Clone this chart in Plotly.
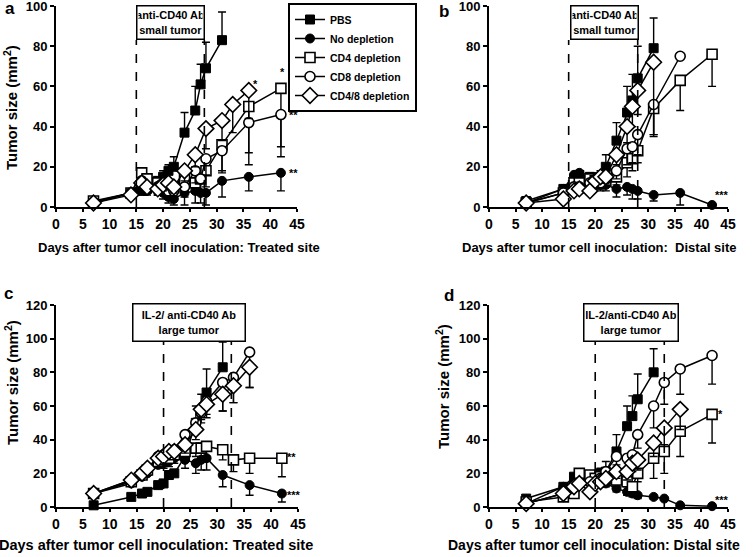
import plotly.graph_objects as go

W, H = 755, 557
FONT = "Arial, Liberation Sans, sans-serif"

SERIES = ["PBS", "No depletion", "CD4 depletion", "CD8 depletion", "CD4/8 depletion"]
X_TICKS = [0, 5, 10, 15, 20, 25, 30, 35, 40, 45]

# ---------------- Panel a : treated site, small tumor ----------------
A_PBS_DAYS = [7, 14, 16, 17, 19, 20, 21, 22, 24, 26, 27, 28, 31]
A_PBS = [2.5, 7, 8, 9, 13, 15, 18, 20, 37, 48, 61, 69, 83]
A_PBS_UP = [0, 0, 1, 1, 2, 3, 3, 5, 10, 12, 10, 13, 14]

A_NOD_DAYS = [7, 14, 16, 17, 19, 20, 21, 22, 24, 26, 27, 28, 31, 36, 42]
A_NOD = [2, 7, 9, 8, 10, 7, 5, 4, 7, 8, 7, 7, 13, 15, 17]
A_NOD_DN = [0, 0, 2, 2, 3, 3, 3, 3, 6, 6, 5, 6, 8, 7, 9]

A_CD4_DAYS = [7, 14, 16, 17, 19, 20, 21, 22, 24, 26, 27, 28, 31, 36, 42]
A_CD4 = [3, 7, 17, 14, 12, 10, 8, 10, 14, 12, 14, 18, 31, 50, 59]
A_CD4_DN = [0, 0, 5, 5, 4, 4, 4, 4, 6, 5, 6, 8, 13, 23, 29]

A_CD8_DAYS = [7, 14, 16, 17, 19, 20, 21, 22, 24, 26, 27, 28, 31, 36, 42]
A_CD8 = [2, 7, 13, 10, 10, 12, 8, 8, 10, 18, 14, 24, 28, 42, 46]
A_CD8_DN = [0, 0, 4, 3, 4, 4, 4, 4, 5, 6, 6, 8, 11, 21, 21]

A_CD48_DAYS = [7, 14, 16, 17, 19, 20, 21, 22, 24, 26, 28, 31, 33, 36]
A_CD48 = [2, 6, 12, 10, 9, 11, 12, 10, 18, 26, 39, 43, 51, 58]
A_CD48_DN = [0, 0, 3, 3, 3, 3, 3, 3, 5, 6, 10, 10, 14, 14]

# ---------------- Panel b : distal site, small tumor ----------------
B_PBS_DAYS = [7, 14, 16, 17, 19, 20, 21, 22, 24, 26, 27, 28, 31]
B_PBS = [3, 9, 14, 16, 15, 14, 15, 20, 33, 47, 53, 64, 79]
B_PBS_UP = [0, 1, 2, 2, 2, 3, 3, 6, 9, 13, 13, 16, 15]

B_NOD_DAYS = [7, 14, 16, 17, 19, 20, 21, 22, 24, 26, 27, 28, 31, 36, 42]
B_NOD = [2, 9, 16, 17, 14, 12, 11, 11, 9, 10, 9, 8, 6, 7, 1]
B_NOD_DN = [0, 0, 3, 3, 3, 3, 3, 3, 4, 4, 5, 4, 3, 6, 0]

B_CD4_DAYS = [7, 14, 16, 17, 19, 20, 21, 22, 24, 26, 27, 28, 31, 36, 42]
B_CD4 = [2, 7, 12, 12, 14, 13, 12, 13, 15, 22, 24, 28, 49, 63, 76]
B_CD4_DN = [0, 0, 3, 3, 3, 3, 3, 3, 4, 7, 6, 6, 14, 15, 16]

B_CD8_DAYS = [7, 14, 16, 17, 19, 20, 21, 22, 24, 26, 27, 28, 31, 36]
B_CD8 = [2, 7, 10, 10, 12, 13, 12, 14, 18, 29, 30, 36, 51, 75]
B_CD8_DN = [0, 0, 3, 3, 3, 3, 3, 3, 4, 8, 8, 10, 15, 0]

B_CD48_DAYS = [7, 14, 16, 17, 19, 20, 21, 22, 24, 26, 27, 28, 31]
B_CD48 = [2, 4, 8, 9, 8, 13, 15, 15, 26, 40, 50, 58, 72]
B_CD48_DN = [0, 0, 2, 2, 2, 3, 3, 3, 5, 8, 10, 12, 36]

# ---------------- Panel c : treated site, large tumor ----------------
C_PBS_DAYS = [7, 14, 16, 17, 19, 20, 21, 22, 24, 26, 27, 28, 31]
C_PBS = [1, 6, 8, 9, 13, 14, 19, 20, 30, 50, 57, 68, 83]
C_PBS_UP = [0, 0, 0, 0, 0, 0, 0, 0, 5, 10, 10, 14, 15]

C_NOD_DAYS = [7, 14, 16, 17, 19, 20, 21, 22, 24, 26, 27, 28, 31, 36, 42]
C_NOD = [8, 14, 18, 20, 25, 26, 27, 29, 28, 26, 28, 29, 19, 13, 8]
C_NOD_DN = [0, 0, 0, 0, 2, 3, 3, 3, 5, 6, 6, 7, 7, 6, 5]

C_CD4_DAYS = [7, 14, 16, 17, 19, 20, 21, 22, 24, 26, 27, 28, 31, 33, 36, 42]
C_CD4 = [8, 15, 19, 22, 27, 28, 29, 31, 33, 35, 35, 36, 34, 28, 29, 29]
C_CD4_DN = [0, 0, 0, 0, 2, 2, 3, 3, 4, 5, 5, 6, 6, 7, 9, 11]

C_CD8_DAYS = [7, 14, 16, 17, 19, 20, 21, 22, 24, 26, 27, 28, 31, 33, 36]
C_CD8 = [8, 16, 20, 23, 30, 31, 33, 34, 43, 50, 56, 63, 74, 77, 92]
C_CD8_DN = [0, 0, 0, 0, 2, 2, 3, 3, 5, 6, 6, 8, 17, 15, 21]

C_CD48_DAYS = [7, 14, 16, 17, 19, 20, 21, 22, 24, 26, 27, 28, 31, 33, 36]
C_CD48 = [8, 16, 20, 23, 29, 30, 33, 33, 37, 46, 58, 61, 67, 72, 83]
C_CD48_DN = [0, 0, 0, 0, 2, 2, 3, 3, 5, 6, 6, 8, 10, 10, 12]

# ---------------- Panel d : distal site, large tumor ----------------
D_PBS_DAYS = [7, 14, 16, 17, 19, 20, 21, 22, 24, 26, 27, 28, 31]
D_PBS = [5, 12, 18, 19, 19, 18, 20, 21, 33, 48, 54, 64, 80]
D_PBS_UP = [0, 0, 1, 1, 2, 2, 3, 6, 10, 12, 12, 15, 14]

D_NOD_DAYS = [7, 14, 16, 17, 19, 20, 21, 22, 24, 26, 27, 28, 31, 33, 36, 42]
D_NOD = [2, 12, 15, 18, 17, 15, 15, 14, 11, 9, 8, 7, 6, 5, 1, 0.5]
D_NOD_DN = [0, 0, 2, 2, 2, 2, 2, 2, 2, 2, 2, 2, 1, 1, 0, 0]

D_CD4_DAYS = [7, 14, 16, 17, 19, 20, 21, 22, 24, 26, 27, 28, 31, 33, 36, 42]
D_CD4 = [3, 6, 8, 20, 19, 17, 18, 17, 16, 15, 12, 20, 29, 33, 45, 55]
D_CD4_DN = [0, 0, 1, 2, 2, 2, 3, 3, 3, 3, 3, 5, 12, 13, 15, 17]

D_CD8_DAYS = [7, 14, 16, 17, 19, 20, 21, 22, 24, 26, 27, 28, 31, 33, 36, 42]
D_CD8 = [2, 8, 12, 14, 15, 14, 17, 21, 30, 29, 31, 43, 60, 74, 82, 90]
D_CD8_DN = [0, 0, 2, 2, 2, 2, 3, 3, 5, 6, 6, 8, 13, 13, 15, 17]

D_CD48_DAYS = [7, 14, 16, 17, 19, 20, 21, 22, 24, 26, 27, 28, 31, 33, 36]
D_CD48 = [2, 8, 12, 14, 9, 14, 15, 17, 21, 21, 26, 28, 38, 47, 58]
D_CD48_DN = [0, 0, 2, 2, 2, 2, 3, 3, 4, 5, 5, 6, 8, 10, 12]

# ---------------- styles ----------------
MARKERS = {
    "PBS": dict(symbol="square", size=9, color="black", line=dict(color="black", width=1)),
    "No depletion": dict(symbol="circle", size=9, color="black", line=dict(color="black", width=1)),
    "CD4 depletion": dict(symbol="square", size=10, color="white", line=dict(color="black", width=1.6)),
    "CD8 depletion": dict(symbol="circle", size=10, color="white", line=dict(color="black", width=1.6)),
    "CD4/8 depletion": dict(symbol="diamond", size=12, color="white", line=dict(color="black", width=1.6)),
}

PANELS = [
    dict(ax="", ymax=100, dtick=20, dom_x=(56, 297), dom_y=(6, 207),
         series=[("PBS", A_PBS_DAYS, A_PBS, A_PBS_UP, None),
                 ("No depletion", A_NOD_DAYS, A_NOD, None, A_NOD_DN),
                 ("CD4 depletion", A_CD4_DAYS, A_CD4, None, A_CD4_DN),
                 ("CD8 depletion", A_CD8_DAYS, A_CD8, None, A_CD8_DN),
                 ("CD4/8 depletion", A_CD48_DAYS, A_CD48, None, A_CD48_DN)]),
    dict(ax="2", ymax=100, dtick=20, dom_x=(489, 728), dom_y=(6, 207),
         series=[("PBS", B_PBS_DAYS, B_PBS, B_PBS_UP, None),
                 ("No depletion", B_NOD_DAYS, B_NOD, None, B_NOD_DN),
                 ("CD4 depletion", B_CD4_DAYS, B_CD4, None, B_CD4_DN),
                 ("CD8 depletion", B_CD8_DAYS, B_CD8, None, B_CD8_DN),
                 ("CD4/8 depletion", B_CD48_DAYS, B_CD48, None, B_CD48_DN)]),
    dict(ax="3", ymax=120, dtick=20, dom_x=(56, 298), dom_y=(305, 507),
         series=[("PBS", C_PBS_DAYS, C_PBS, C_PBS_UP, None),
                 ("No depletion", C_NOD_DAYS, C_NOD, None, C_NOD_DN),
                 ("CD4 depletion", C_CD4_DAYS, C_CD4, None, C_CD4_DN),
                 ("CD8 depletion", C_CD8_DAYS, C_CD8, None, C_CD8_DN),
                 ("CD4/8 depletion", C_CD48_DAYS, C_CD48, None, C_CD48_DN)]),
    dict(ax="4", ymax=120, dtick=20, dom_x=(489, 728), dom_y=(305, 507),
         series=[("PBS", D_PBS_DAYS, D_PBS, D_PBS_UP, None),
                 ("No depletion", D_NOD_DAYS, D_NOD, None, D_NOD_DN),
                 ("CD4 depletion", D_CD4_DAYS, D_CD4, None, D_CD4_DN),
                 ("CD8 depletion", D_CD8_DAYS, D_CD8, None, D_CD8_DN),
                 ("CD4/8 depletion", D_CD48_DAYS, D_CD48, None, D_CD48_DN)]),
]

def px(x):
    return x / W

def py(y):
    return 1 - y / H

fig = go.Figure()
layout = {}
for i, p in enumerate(PANELS):
    ax = p["ax"]
    for name, days, vals, up, dn in p["series"]:
        n = len(vals)
        fig.add_trace(go.Scatter(
            x=days, y=vals, name=name, mode="lines+markers",
            xaxis="x" + ax, yaxis="y" + ax,
            line=dict(color="black", width=1.5),
            marker=MARKERS[name],
            error_y=dict(type="data", symmetric=False,
                         array=up if up is not None else [0] * n,
                         arrayminus=dn if dn is not None else [0] * n,
                         color="black", thickness=1.4, width=4),
            cliponaxis=False,
            showlegend=(i == 0),
        ))
    layout["xaxis" + ax] = dict(
        domain=[px(p["dom_x"][0]), px(p["dom_x"][1])], range=[0, 45],
        tickvals=X_TICKS, anchor="y" + ax,
        showline=True, linewidth=2, linecolor="black", mirror=False,
        ticks="outside", ticklen=3, tickwidth=1.5, tickcolor="black",
        showgrid=False, zeroline=False, ticklabeloverflow="allow",
        tickfont=dict(family=FONT, size=14, color="black", weight="bold"),
    )
    layout["yaxis" + ax] = dict(
        domain=[py(p["dom_y"][1]), py(p["dom_y"][0])], range=[0, p["ymax"]],
        dtick=p["dtick"], anchor="x" + ax,
        showline=True, linewidth=2, linecolor="black",
        ticks="outside", ticklen=4, tickwidth=1.5, tickcolor="black",
        showgrid=False, zeroline=False, ticklabeloverflow="allow",
        tickfont=dict(family=FONT, size=13, color="black", weight="bold"),
    )

# dashed treatment windows + boxes
WINDOWS = [("", 15, 27.7, 40), ("2", 15, 28, 40), ("3", 20, 32.6, 341), ("4", 20, 33, 341)]
shapes = []
for ax, d0, d1, top in WINDOWS:
    dom = layout["yaxis" + ax]["domain"]
    for d in (d0, d1):
        shapes.append(dict(type="line", xref="x" + ax, yref="paper", x0=d, x1=d,
                           y0=dom[0], y1=py(top),
                           line=dict(color="black", width=1.6, dash="dash")))

annotations = []
BOXES = [
    ("anti-CD40 Ab<br>small tumor", 170.5, 23, 64, 30),
    ("anti-CD40 Ab<br>small tumor", 604, 23, 64, 30),
    ("IL-2/ anti-CD40 Ab<br>large tumor", 188.5, 322, 109, 34),
    ("IL-2/anti-CD40 Ab<br>large tumor", 630.5, 322, 91, 34),
]
for txt, cx, cy, w, h in BOXES:
    annotations.append(dict(text=txt, xref="paper", yref="paper", x=px(cx), y=py(cy),
                            xanchor="center", yanchor="middle", showarrow=False,
                            width=w, height=h, bgcolor="white", bordercolor="black",
                            borderwidth=1.5, borderpad=1,
                            font=dict(family=FONT, size=11, color="black", weight="bold")))

def label(txt, x, y, size, angle=0):
    annotations.append(dict(text=txt, xref="paper", yref="paper", x=px(x), y=py(y),
                            xanchor="center", yanchor="middle", showarrow=False,
                            textangle=angle,
                            font=dict(family=FONT, size=size, color="black", weight="bold")))

# panel letters
label("a", 10, 9, 17)
label("b", 444, 11, 17)
label("c", 8, 293, 17)
label("d", 449, 295, 17)
# axis titles
label("Tumor size (mm<sup>2</sup>)", 11, 108, 15, -90)
label("Tumor size (mm<sup>2</sup>)", 11, 383, 15, -90)
label("Tumor size (mm<sup>2</sup>)", 442, 387, 15, -90)
label("Days after tumor cell inoculation: Treated site", 179, 248, 13)
label("Days after tumor cell inoculation:  Distal site", 599, 248, 13)
label("Days after tumor cell inoculation: Treated site", 156, 545, 14.5)
label("Days after tumor cell inoculation: Distal site", 594, 545, 14)

# significance marks (data coordinates)
STARS = [
    ("", "*", 37.3, 61), ("", "*", 42.2, 67), ("", "**", 44.3, 46), ("", "**", 44.3, 17),
    ("2", "***", 43.8, 6),
    ("3", "**", 43.8, 30), ("3", "***", 44.3, 7),
    ("4", "*", 43.6, 55), ("4", "***", 43.8, 4),
]
for ax, s, x, y in STARS:
    annotations.append(dict(text=s, xref="x" + ax, yref="y" + ax, x=x, y=y,
                            showarrow=False, xanchor="center", yanchor="middle",
                            font=dict(family=FONT, size=11, color="black", weight="bold")))

fig.update_layout(
    width=W, height=H, margin=dict(l=0, r=0, t=0, b=0, autoexpand=False),
    paper_bgcolor="white", plot_bgcolor="white",
    shapes=shapes, annotations=annotations,
    legend=dict(x=px(288), y=py(3), xanchor="left", yanchor="top",
                bgcolor="white", bordercolor="black", borderwidth=2,
                font=dict(family=FONT, size=10.5, color="black", weight="bold"),
                tracegroupgap=0, itemwidth=30),
    **layout,
)
fig.write_html("out.html", config={"displayModeBar": False},
               post_script="document.body.style.margin='0px';document.body.style.padding='0px';")
